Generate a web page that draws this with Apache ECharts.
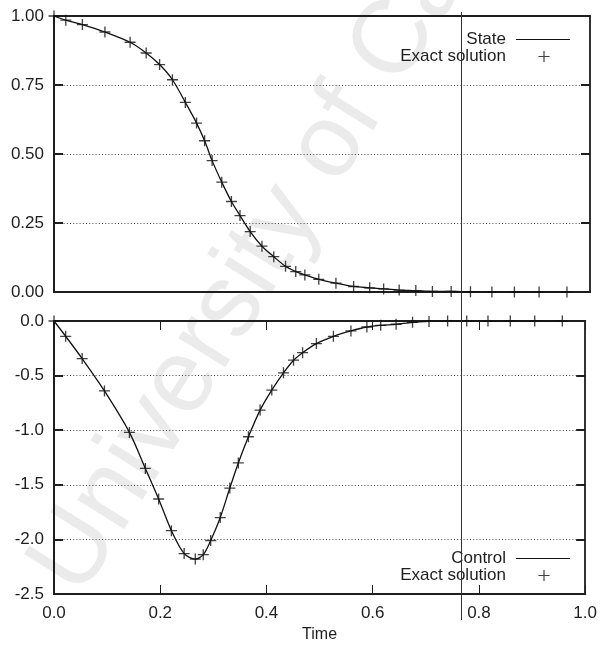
<!DOCTYPE html>
<html>
<head>
<meta charset="utf-8">
<script src="https://cdn.jsdelivr.net/npm/echarts@6/dist/echarts.min.js"></script>
<style>
  html, body { margin: 0; padding: 0; background: #fff; }
  #chart { width: 600px; height: 646px; }
</style>
</head>
<body>
<div id="chart"></div>
<script>
// Collocation times shared by the state and control solutions
const times = [0.000, 0.022, 0.053, 0.095, 0.142, 0.172, 0.197, 0.221, 0.245, 0.266,
               0.281, 0.295, 0.313, 0.331, 0.347, 0.366, 0.388, 0.410, 0.432, 0.451,
               0.468, 0.494, 0.526, 0.559, 0.589, 0.615, 0.644, 0.675, 0.706, 0.741,
               0.777, 0.817, 0.859, 0.905, 0.957];

// State trajectory
const stateValues = [1.000, 0.985, 0.969, 0.942, 0.905, 0.866, 0.824, 0.769, 0.687, 0.612,
                     0.548, 0.476, 0.398, 0.328, 0.277, 0.219, 0.166, 0.128, 0.093, 0.074,
                     0.062, 0.046, 0.032, 0.020, 0.015, 0.011, 0.007, 0.005, 0.002, 0.002,
                     0.001, 0.000, 0.000, 0.000, 0.000];

// Control trajectory
const controlValues = [0.000, -0.140, -0.344, -0.640, -1.020, -1.350, -1.630, -1.920, -2.130, -2.180,
                       -2.140, -2.010, -1.800, -1.530, -1.300, -1.060, -0.816, -0.633, -0.475, -0.359,
                       -0.290, -0.207, -0.140, -0.091, -0.055, -0.040, -0.030, -0.012, -0.004, 0.000,
                       0.000, 0.000, 0.000, 0.000, 0.000];

// Tick values
const timeTicks = [0.0, 0.2, 0.4, 0.6, 0.8, 1.0];
const stateTicks = [0.00, 0.25, 0.50, 0.75, 1.00];
const controlTicks = [-2.5, -2.0, -1.5, -1.0, -0.5, 0.0];

// Time marked by the vertical reference line
const switchTime = 0.76;

const FONT = 'Liberation Sans, Arial, Helvetica, sans-serif';
const INK = '#1e1e1e';

const plusSymbol = 'path://M4.4,0H5.6V4.4H10V5.6H5.6V10H4.4V5.6H0V4.4H4.4Z';
const legendLineIcon = 'path://M0,0L0,0M5,7.9H59V9.1H5ZM59,17L59,17';
const legendPlusIcon = 'path://M0,0L0,0M32.4,3H33.6V7.9H38.5V9.1H33.6V14H32.4V9.1H27.5V7.9H32.4ZM59,17L59,17';

const pairs = (xs, ys) => xs.map((x, i) => [x, ys[i]]);
const step = arr => arr[1] - arr[0];

const chart = echarts.init(document.getElementById('chart'), null, { renderer: 'canvas' });

function timeAxis(gridIndex, position, opts) {
  return Object.assign({
    type: 'value', gridIndex, position,
    min: timeTicks[0], max: timeTicks[timeTicks.length - 1], interval: step(timeTicks),
    axisLine: { show: true, onZero: false, lineStyle: { color: INK, width: 2 } },
    axisTick: { show: false },
    axisLabel: { show: false },
    splitLine: { show: false }
  }, opts);
}

function valueAxis(gridIndex, position, ticks, digits, showLabels) {
  return {
    type: 'value', gridIndex, position,
    min: ticks[0], max: ticks[ticks.length - 1], interval: step(ticks),
    axisLine: { show: true, onZero: false, lineStyle: { color: position === 'left' ? INK : '#333', width: 2 } },
    axisTick: { show: true, inside: true, length: 9, lineStyle: { color: INK, width: 2 } },
    axisLabel: {
      show: showLabels, margin: 10, color: INK, fontFamily: FONT, fontSize: 17,
      formatter: v => v.toFixed(digits)
    },
    splitLine: showLabels ? { show: true, lineStyle: { color: '#444', width: 1, type: [1, 2.2] } } : { show: false }
  };
}

const legendCommon = {
  orient: 'vertical', align: 'right', right: 30,
  itemWidth: 59, itemHeight: 17, itemGap: 0, padding: 0,
  selectedMode: false,
  itemStyle: { borderWidth: 0 },
  textStyle: { fontFamily: FONT, fontSize: 17, color: INK, lineHeight: 17 }
};

chart.setOption({
  animation: false,
  backgroundColor: '#fff',
  grid: [
    { left: 54, right: 10, top: 16, height: 276 },
    { left: 54, right: 10, top: 321, height: 273 }
  ],
  xAxis: [
    timeAxis(0, 'bottom'),
    timeAxis(0, 'top'),
    timeAxis(1, 'bottom', {
      name: 'Time', nameLocation: 'middle', nameGap: 33,
      nameTextStyle: { fontFamily: FONT, fontSize: 16, color: INK },
      axisTick: { show: true, inside: true, length: 9, lineStyle: { color: INK, width: 1 } },
      axisLabel: { show: true, margin: 11, color: INK, fontFamily: FONT, fontSize: 17, formatter: v => v.toFixed(1) }
    }),
    timeAxis(1, 'top', {
      axisTick: { show: true, inside: true, length: 9, lineStyle: { color: INK, width: 1 } }
    })
  ],
  yAxis: [
    valueAxis(0, 'left', stateTicks, 2, true),
    valueAxis(0, 'right', stateTicks, 2, false),
    valueAxis(1, 'left', controlTicks, 1, true),
    valueAxis(1, 'right', controlTicks, 1, false)
  ],
  legend: [
    Object.assign({}, legendCommon, {
      top: 31,
      data: [{ name: 'State', icon: legendLineIcon }, { name: 'Exact solution', icon: legendPlusIcon }]
    }),
    Object.assign({}, legendCommon, {
      top: 550,
      data: [{ name: 'Control', icon: legendLineIcon }, { name: 'Exact solution', icon: legendPlusIcon }]
    })
  ],
  series: [
    {
      name: 'State', type: 'line', xAxisIndex: 0, yAxisIndex: 0,
      data: pairs(times, stateValues), showSymbol: false, symbol: 'none',
      smooth: 0.3, color: '#111',
      lineStyle: { color: '#111', width: 1.3 }, z: 3
    },
    {
      name: 'Exact solution', type: 'scatter', xAxisIndex: 0, yAxisIndex: 0,
      data: pairs(times, stateValues), symbol: plusSymbol, symbolSize: 11,
      color: '#111', itemStyle: { color: '#111' }, z: 4
    },
    {
      name: 'Control', type: 'line', xAxisIndex: 2, yAxisIndex: 2,
      data: pairs(times, controlValues), showSymbol: false, symbol: 'none',
      smooth: 0.3, color: '#111',
      lineStyle: { color: '#111', width: 1.3 }, z: 3
    },
    {
      name: 'Exact solution', type: 'scatter', xAxisIndex: 2, yAxisIndex: 2,
      data: pairs(times, controlValues), symbol: plusSymbol, symbolSize: 11,
      color: '#111', itemStyle: { color: '#111' }, z: 4
    }
  ]
});

// Vertical reference line through both panels, placed with the time axis scale
const lineX = chart.convertToPixel({ xAxisIndex: 0 }, switchTime);
const topY = chart.convertToPixel({ yAxisIndex: 0 }, stateTicks[stateTicks.length - 1]);
const bottomY = chart.convertToPixel({ yAxisIndex: 2 }, controlTicks[0]);

chart.setOption({
  graphic: [
    {
      type: 'text', z: -10, silent: true,
      x: 12, y: 556, rotation: 58 * Math.PI / 180,
      style: { text: 'University of Cape Town', font: '104px ' + FONT, fill: '#ebebeb' }
    },
    {
      type: 'line', z: 10, silent: true,
      shape: { x1: Math.round(lineX) + 0.5, y1: topY - 4, x2: Math.round(lineX) + 0.5, y2: bottomY + 26 },
      style: { stroke: '#333', lineWidth: 1 }
    }
  ]
});
</script>
</body>
</html>
